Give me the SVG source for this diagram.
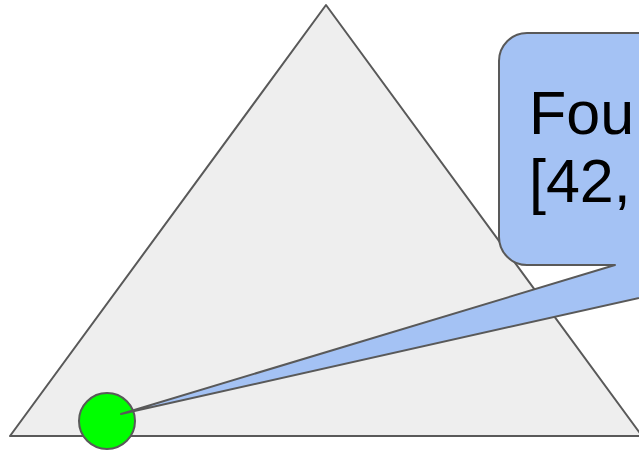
<svg xmlns="http://www.w3.org/2000/svg" width="639" height="450" viewBox="0 0 639 450">
<style>
.shape{stroke:#595959;stroke-width:2;stroke-linejoin:round}
.label{font-family:"Liberation Sans",Arial,sans-serif;font-size:61px;fill:#000}
</style>
<rect width="639" height="450" fill="#ffffff"/>
<g id="triangle">
<polygon class="shape" points="326,5 10,436 642,436" fill="#eeeeee"/>
</g>
<g id="point">
<circle class="shape" cx="107" cy="421" r="28" fill="#00ff00"/>
</g>
<g id="callout">
<path class="shape" fill="#a4c2f4" d="M527,33 H900 V265 H786 L121,414 L615,265 H527 A28,28 0 0 1 499,237 V61 A28,28 0 0 1 527,33 Z"/>
<text class="label" x="529" y="134">Fou</text>
<text class="label" x="529" y="202">[42,</text>
</g>
</svg>
